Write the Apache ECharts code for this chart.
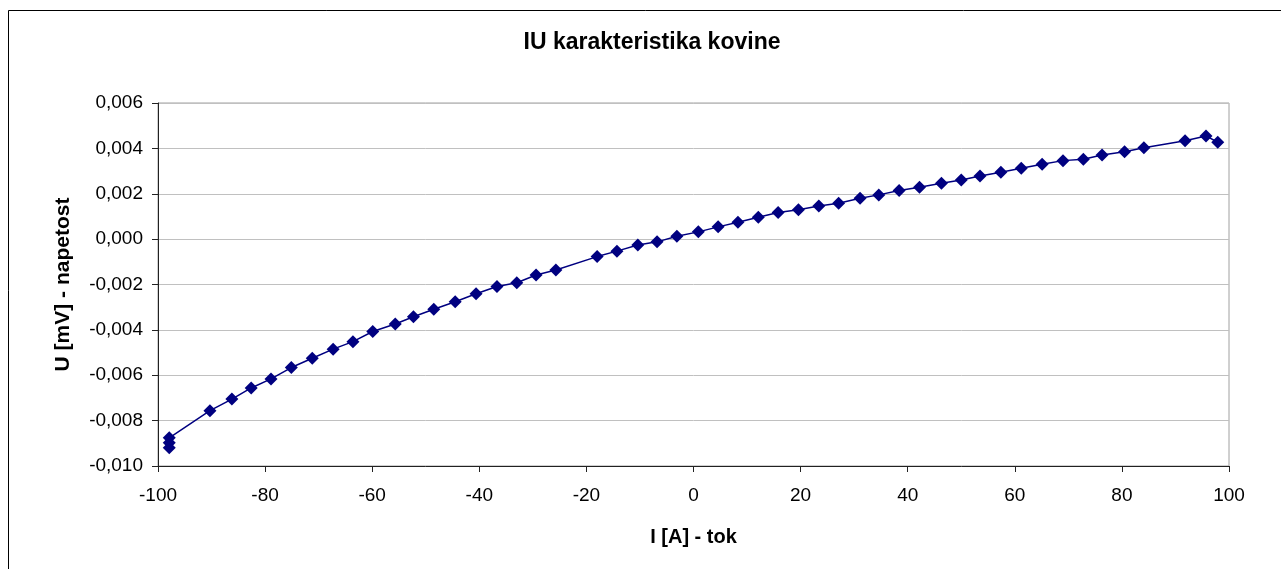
<!DOCTYPE html>
<html>
<head>
<meta charset="utf-8">
<script src="https://cdn.jsdelivr.net/npm/echarts@6/dist/echarts.min.js"></script>
<style>
html,body{margin:0;padding:0;background:#fff;}
#c{width:1281px;height:569px;}
</style>
</head>
<body>
<div id="c"></div>
<script>
const titleText = 'IU karakteristika kovine';
const xName = 'I [A] - tok';
const yName = 'U [mV] - napetost';

const current = [-97.9, -97.9, -97.9, -90.3, -86.2, -82.6, -78.9, -75.1, -71.2, -67.3, -63.6, -59.9, -55.7, -52.3, -48.5, -44.5, -40.6, -36.7, -33.0, -29.4, -25.7, -18.0, -14.3, -10.4, -6.8, -3.1, 0.9, 4.6, 8.3, 12.1, 15.8, 19.6, 23.4, 27.1, 31.1, 34.6, 38.4, 42.2, 46.3, 50.0, 53.5, 57.4, 61.2, 65.1, 69.0, 72.8, 76.3, 80.5, 84.1, 91.8, 95.7, 97.9];
const voltage = [-0.00920, -0.00898, -0.00876, -0.00756, -0.00705, -0.00656, -0.00616, -0.00566, -0.00525, -0.00485, -0.00452, -0.00407, -0.00374, -0.00342, -0.00309, -0.00276, -0.00241, -0.00209, -0.00192, -0.00158, -0.00136, -0.00077, -0.00053, -0.00026, -0.00012, 0.00013, 0.00032, 0.00054, 0.00074, 0.00096, 0.00117, 0.00129, 0.00146, 0.00158, 0.00180, 0.00195, 0.00214, 0.00229, 0.00246, 0.00261, 0.00278, 0.00295, 0.00312, 0.00330, 0.00346, 0.00352, 0.00371, 0.00385, 0.00403, 0.00434, 0.00455, 0.00427];

const points = current.map((x, i) => [x, voltage[i]]);

const chart = echarts.init(document.getElementById('c'));
const font = '"Liberation Sans", Arial, sans-serif';
chart.setOption({
  animation: false,
  backgroundColor: '#ffffff',
  textStyle: { fontFamily: font },
  title: {
    text: titleText,
    left: 647, top: 26, textAlign: 'center',
    textStyle: { fontFamily: font, fontSize: 23, fontWeight: 'bold', color: '#000' }
  },
  graphic: [{
    type: 'rect', silent: true, z: -1,
    shape: { x: 8.5, y: 10.5, width: 1300, height: 600 },
    style: { fill: 'none', stroke: '#000', lineWidth: 1 }
  }],
  grid: { left: 158, right: 52, top: 103, bottom: 103, show: true, borderColor: '#a0a0a0', borderWidth: 1, backgroundColor: 'transparent' },
  xAxis: {
    type: 'value', min: -100, max: 100, interval: 20,
    name: xName, nameLocation: 'middle', nameGap: 61,
    nameTextStyle: { fontFamily: font, fontSize: 20, fontWeight: 'bold', color: '#000' },
    axisLine: { onZero: false, lineStyle: { color: '#222', width: 1 } },
    axisTick: { show: true, inside: false, length: 6, lineStyle: { color: '#222' } },
    axisLabel: { color: '#000', fontSize: 19, margin: 20, fontFamily: font },
    splitLine: { show: false }
  },
  yAxis: {
    type: 'value', min: -0.010, max: 0.006, interval: 0.002,
    name: yName, nameLocation: 'middle', nameGap: 84, nameRotate: 90,
    nameTextStyle: { fontFamily: font, fontSize: 21, fontWeight: 'bold', color: '#000' },
    axisLine: { onZero: false, lineStyle: { color: '#222', width: 1 } },
    axisTick: { show: true, inside: false, length: 6, lineStyle: { color: '#222' } },
    axisLabel: {
      color: '#000', fontSize: 19, margin: 15, fontFamily: font,
      formatter: v => {
        const r = Math.round(v * 1000) / 1000;
        return r.toFixed(3).replace('.', ',').replace('-0,000', '0,000');
      }
    },
    splitLine: { show: true, lineStyle: { color: '#c0c0c0', width: 1 } }
  },
  series: [{
    type: 'line',
    data: points,
    symbol: 'diamond',
    symbolSize: 13,
    itemStyle: { color: '#000080' },
    lineStyle: { color: '#000080', width: 1.5 }
  }]
});
</script>
</body>
</html>
